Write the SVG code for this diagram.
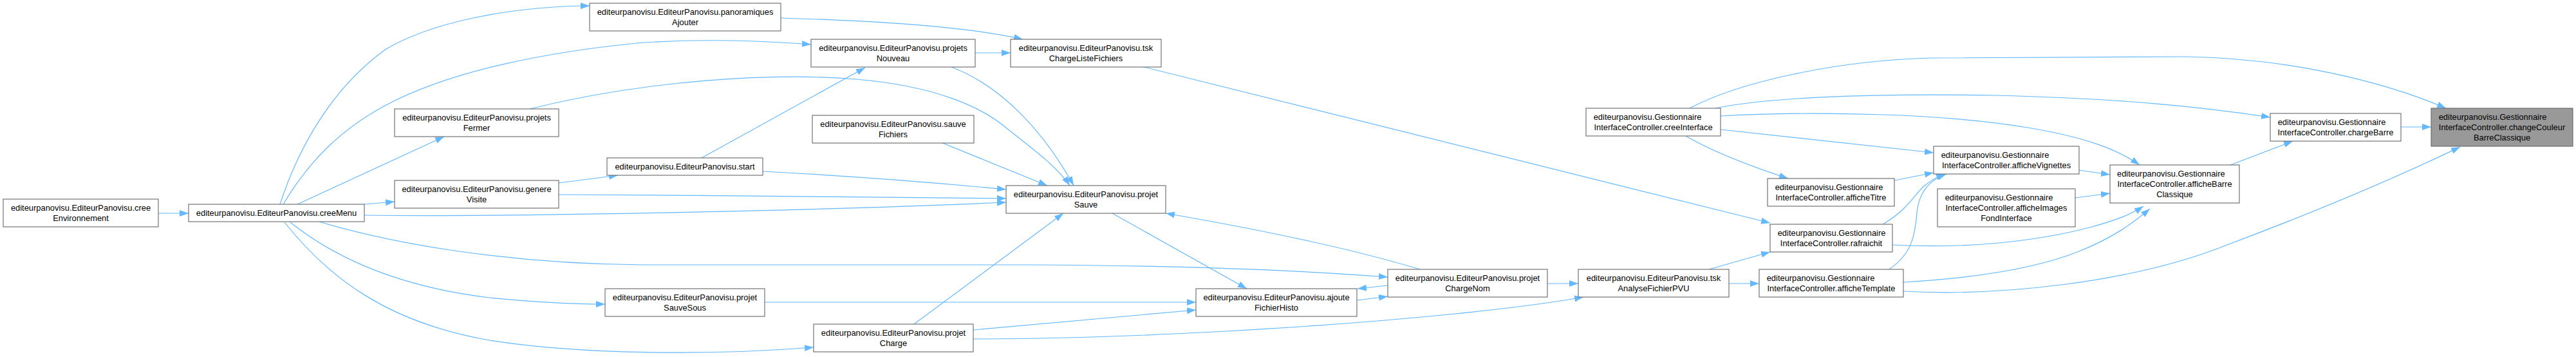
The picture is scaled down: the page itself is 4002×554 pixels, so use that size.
<svg xmlns="http://www.w3.org/2000/svg" width="4002" height="554" viewBox="0 0 4002 554">
<style>
.e{fill:none;stroke:#63b8ff;stroke-width:1.2;marker-end:url(#ah)}
.n rect{fill:#fff;stroke:#666;stroke-width:1.1}
.f rect{fill:#999;stroke:#666;stroke-width:1.1}
text{font-family:"Liberation Sans",Arial,Helvetica,sans-serif;font-size:12.9px;fill:#000}
.c{text-anchor:middle}
</style>
<defs>
<marker id="ah" viewBox="0 0 14 10" refX="14" refY="5" markerWidth="14" markerHeight="10" markerUnits="userSpaceOnUse" orient="auto">
<path d="M0,0 L14,5 L0,10 z" fill="#63b8ff"/>
</marker>
</defs>
<rect x="0" y="0" width="4002" height="554" fill="#fff"/>
<g id="edges">
<path class="e" d="M246,331 L293,331"/>
<path class="e" d="M435,317 C460,240 510,140 600,76 C670,35 790,10 916,9"/>
<path class="e" d="M440,317 C480,250 530,200 600,163 C700,110 850,80 1000,66 C1100,60 1180,63 1260,69"/>
<path class="e" d="M462,317 L690,212"/>
<path class="e" d="M566,317 L613,313"/>
<path class="e" d="M566,334 C800,337 1300,326 1563,314"/>
<path class="e" d="M496,344 C600,375 780,410 1000,411 L1600,411 C1800,412 2000,418 2156,430"/>
<path class="e" d="M451,345 C520,400 620,445 760,462 C840,470 900,472 940,472"/>
<path class="e" d="M442,345 C510,430 600,500 760,528 C900,550 1100,552 1264,539"/>
<path class="e" d="M868,284 L960,272"/>
<path class="e" d="M868,302 C1100,303 1400,306 1563,308"/>
<path class="e" d="M1090,245 L1344,105"/>
<path class="e" d="M1185,266 C1300,272 1450,283 1563,294"/>
<path class="e" d="M823,169 C1000,125 1200,112 1330,123 C1450,133 1525,165 1565,200 C1610,235 1645,262 1662,288"/>
<path class="e" d="M1478,104 C1560,135 1625,210 1668,288"/>
<path class="e" d="M1515,82 L1570,82"/>
<path class="e" d="M1213,28 C1350,32 1500,40 1589,61"/>
<path class="e" d="M1777,104 L2750,346"/>
<path class="e" d="M1462,221 L1627,288"/>
<path class="e" d="M1728,331 L1937,448"/>
<path class="e" d="M1420,503 L1652,331"/>
<path class="e" d="M1512,512 L1858,481"/>
<path class="e" d="M1512,526 C1750,526 2050,508 2250,488 C2350,478 2410,470 2460,461"/>
<path class="e" d="M1188,469 L1858,469"/>
<path class="e" d="M2108,466 L2156,460"/>
<path class="e" d="M2156,443 L2109,448"/>
<path class="e" d="M2206,418 C2100,386 1950,355 1811,331"/>
<path class="e" d="M2404,440 L2452,440"/>
<path class="e" d="M2655,418 L2750,391"/>
<path class="e" d="M2686,440 L2733,440"/>
<path class="e" d="M2673,201 L3004,237"/>
<path class="e" d="M2619,211 C2660,235 2720,258 2778,277"/>
<path class="e" d="M2943,280 L3004,268"/>
<path class="e" d="M2925,348 C2965,325 2975,300 2990,288 C3000,280 3010,274 3022,270"/>
<path class="e" d="M2935,418 C2968,395 2975,370 2978,330 C2981,300 2995,280 3024,270"/>
<path class="e" d="M2940,380 C3050,386 3160,376 3250,352 C3290,341 3312,332 3330,320"/>
<path class="e" d="M2957,438 C3060,432 3160,418 3230,390 C3285,368 3315,345 3340,324"/>
<path class="e" d="M2957,452 C3100,460 3310,440 3460,380 C3620,320 3730,272 3822,228"/>
<path class="e" d="M2673,180 C2820,172 3020,176 3150,198 C3240,213 3290,232 3324,256"/>
<path class="e" d="M2665,168 C2750,150 2920,145 3100,148 C3300,153 3420,166 3527,182"/>
<path class="e" d="M2625,168 C2700,128 2850,94 3000,90 L3395,88 C3550,90 3700,125 3800,168"/>
<path class="e" d="M3230,264 L3278,271"/>
<path class="e" d="M3224,307 L3278,300"/>
<path class="e" d="M3465,256 L3562,219"/>
<path class="e" d="M3730,197 L3777,197"/>
</g>
<g id="node-creeEnvironnement" class="n"><rect x="5" y="309" width="241" height="43"/><text class="c" x="125.5" y="327">editeurpanovisu.EditeurPanovisu.cree</text><text class="c" x="125.5" y="343">Environnement</text></g>
<g id="node-creeMenu" class="n"><rect x="293" y="317" width="273" height="27"/><text class="c" x="429.5" y="335">editeurpanovisu.EditeurPanovisu.creeMenu</text></g>
<g id="node-projetsFermer" class="n"><rect x="613" y="169" width="255" height="43"/><text class="c" x="740.5" y="187">editeurpanovisu.EditeurPanovisu.projets</text><text class="c" x="740.5" y="203">Fermer</text></g>
<g id="node-genereVisite" class="n"><rect x="613" y="280" width="255" height="43"/><text class="c" x="740.5" y="298">editeurpanovisu.EditeurPanovisu.genere</text><text class="c" x="740.5" y="314">Visite</text></g>
<g id="node-panoramiquesAjouter" class="n"><rect x="916" y="5" width="297" height="43"/><text class="c" x="1064.5" y="23">editeurpanovisu.EditeurPanovisu.panoramiques</text><text class="c" x="1064.5" y="39">Ajouter</text></g>
<g id="node-start" class="n"><rect x="943" y="245" width="242" height="27"/><text class="c" x="1064" y="263">editeurpanovisu.EditeurPanovisu.start</text></g>
<g id="node-projetSauveSous" class="n"><rect x="940" y="448" width="248" height="43"/><text class="c" x="1064" y="466">editeurpanovisu.EditeurPanovisu.projet</text><text class="c" x="1064" y="482">SauveSous</text></g>
<g id="node-projetsNouveau" class="n"><rect x="1260" y="61" width="255" height="43"/><text class="c" x="1387.5" y="79">editeurpanovisu.EditeurPanovisu.projets</text><text class="c" x="1387.5" y="95">Nouveau</text></g>
<g id="node-sauveFichiers" class="n"><rect x="1262" y="179" width="251" height="43"/><text class="c" x="1387.5" y="197">editeurpanovisu.EditeurPanovisu.sauve</text><text class="c" x="1387.5" y="213">Fichiers</text></g>
<g id="node-projetCharge" class="n"><rect x="1264" y="503" width="248" height="43"/><text class="c" x="1388" y="521">editeurpanovisu.EditeurPanovisu.projet</text><text class="c" x="1388" y="537">Charge</text></g>
<g id="node-tskChargeListeFichiers" class="n"><rect x="1570" y="61" width="234" height="43"/><text class="c" x="1687" y="79">editeurpanovisu.EditeurPanovisu.tsk</text><text class="c" x="1687" y="95">ChargeListeFichiers</text></g>
<g id="node-projetSauve" class="n"><rect x="1563" y="288" width="248" height="43"/><text class="c" x="1687" y="306">editeurpanovisu.EditeurPanovisu.projet</text><text class="c" x="1687" y="322">Sauve</text></g>
<g id="node-ajouteFichierHisto" class="n"><rect x="1858" y="448" width="250" height="43"/><text class="c" x="1983" y="466">editeurpanovisu.EditeurPanovisu.ajoute</text><text class="c" x="1983" y="482">FichierHisto</text></g>
<g id="node-projetChargeNom" class="n"><rect x="2156" y="418" width="248" height="43"/><text class="c" x="2280" y="436">editeurpanovisu.EditeurPanovisu.projet</text><text class="c" x="2280" y="452">ChargeNom</text></g>
<g id="node-tskAnalyseFichierPVU" class="n"><rect x="2452" y="418" width="234" height="43"/><text class="c" x="2569" y="436">editeurpanovisu.EditeurPanovisu.tsk</text><text class="c" x="2569" y="452">AnalyseFichierPVU</text></g>
<g id="node-creeInterface" class="n"><rect x="2464" y="168" width="209" height="43"/><text x="2475.7" y="186">editeurpanovisu.Gestionnaire</text><text class="c" x="2568.5" y="202">InterfaceController.creeInterface</text></g>
<g id="node-afficheTitre" class="n"><rect x="2746" y="277" width="197" height="43"/><text x="2757.7" y="295">editeurpanovisu.Gestionnaire</text><text class="c" x="2844.5" y="311">InterfaceController.afficheTitre</text></g>
<g id="node-rafraichit" class="n"><rect x="2750" y="348" width="190" height="43"/><text x="2761.7" y="366">editeurpanovisu.Gestionnaire</text><text class="c" x="2845" y="382">InterfaceController.rafraichit</text></g>
<g id="node-afficheTemplate" class="n"><rect x="2733" y="418" width="224" height="43"/><text x="2744.7" y="436">editeurpanovisu.Gestionnaire</text><text class="c" x="2845" y="452">InterfaceController.afficheTemplate</text></g>
<g id="node-afficheVignettes" class="n"><rect x="3004" y="227" width="226" height="43"/><text x="3015.7" y="245">editeurpanovisu.Gestionnaire</text><text class="c" x="3117" y="261">InterfaceController.afficheVignettes</text></g>
<g id="node-afficheImagesFondInterface" class="n"><rect x="3010" y="293" width="214" height="59"/><text x="3021.7" y="311">editeurpanovisu.Gestionnaire</text><text class="c" x="3117" y="327">InterfaceController.afficheImages</text><text class="c" x="3117" y="343">FondInterface</text></g>
<g id="node-afficheBarreClassique" class="n"><rect x="3278" y="256" width="201" height="59"/><text x="3289" y="274">editeurpanovisu.Gestionnaire</text><text class="c" x="3378.5" y="290">InterfaceController.afficheBarre</text><text class="c" x="3378.5" y="306">Classique</text></g>
<g id="node-chargeBarre" class="n"><rect x="3527" y="176" width="203" height="43"/><text x="3538.7" y="194">editeurpanovisu.Gestionnaire</text><text class="c" x="3628.5" y="210">InterfaceController.chargeBarre</text></g>
<g id="node-changeCouleurBarreClassique" class="f"><rect x="3777" y="168" width="220" height="59"/><text x="3788.7" y="186">editeurpanovisu.Gestionnaire</text><text class="c" x="3887" y="202">InterfaceController.changeCouleur</text><text class="c" x="3887" y="218">BarreClassique</text></g>
</svg>
